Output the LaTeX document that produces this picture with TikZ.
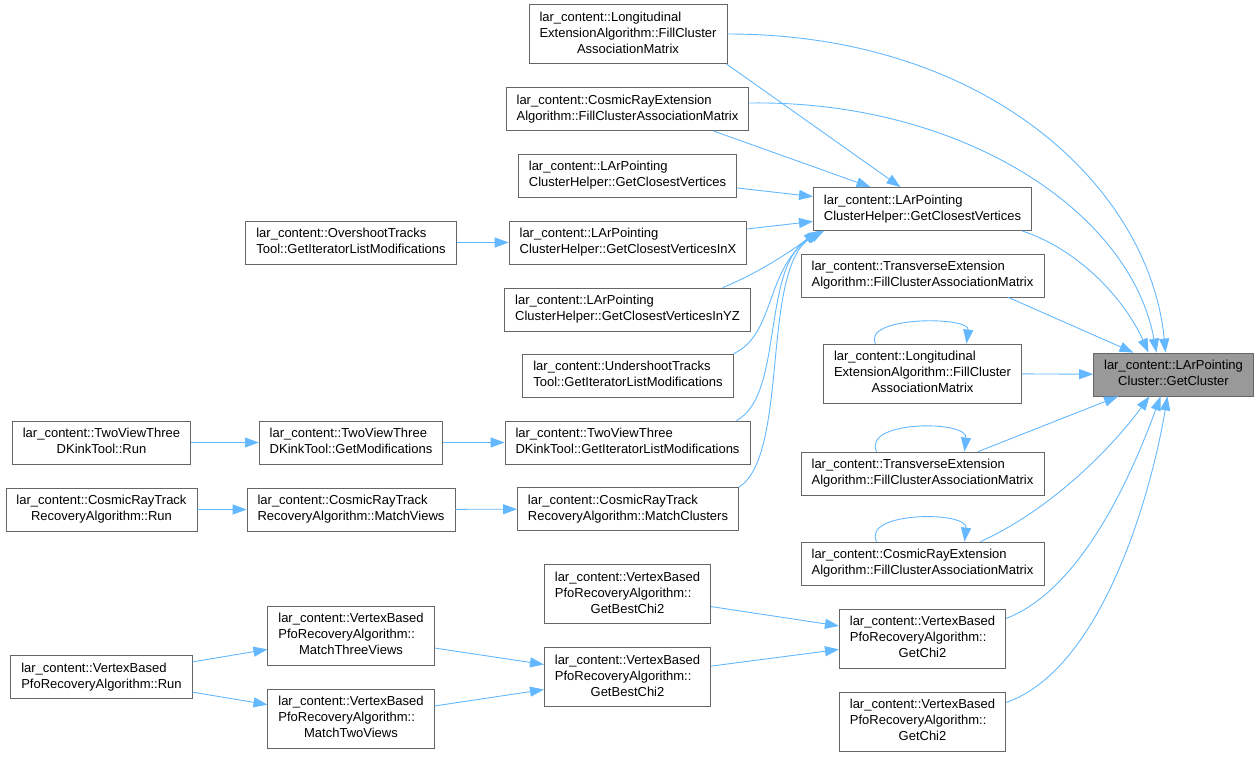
\documentclass[tikz,border=0pt]{standalone}
\usepackage{fontspec}
\setmainfont{Liberation Sans}
\usetikzlibrary{arrows.meta}
\definecolor{callblue}{HTML}{63B8FF}
\definecolor{boxgray}{HTML}{666666}
\definecolor{curgray}{HTML}{999999}
\newcommand{\fnfont}{\fontsize{13}{16}\selectfont}
\newcommand{\fnlabel}[2]{\begin{tabular}{@{}l@{}}#1\\\multicolumn{1}{@{}c@{}}{#2}\end{tabular}}

\begin{document}
\begin{tikzpicture}[x=1pt,y=-1pt,>={Triangle[length=14pt,width=10pt]},
  fn/.style={draw=boxgray,fill=white,line width=0.8pt,inner xsep=10.5pt,inner ysep=5.5pt,font=\fnfont},
  cur/.style={fn,fill=curgray},
  call/.style={->,color=callblue,line width=0.9pt}]
\useasboundingbox (0,0) rectangle (1259,756);

\node[cur] (tgt) at (1173.5,374.5) {\fnlabel{lar\_content::LArPointing}{Cluster::GetCluster}};

\node[fn] (leaTop) at (628,34) {\fnlabel{lar\_content::Longitudinal\\ExtensionAlgorithm::FillCluster}{AssociationMatrix}};
\node[fn] (creaTop) at (627.5,109) {\fnlabel{lar\_content::CosmicRayExtension}{Algorithm::FillClusterAssociationMatrix}};
\node[fn] (gcvLeft) at (627.5,175.5) {\fnlabel{lar\_content::LArPointing}{ClusterHelper::GetClosestVertices}};
\node[fn] (gcvInX) at (628,242.5) {\fnlabel{lar\_content::LArPointing}{ClusterHelper::GetClosestVerticesInX}};
\node[fn] (gcvInYZ) at (627.5,309.5) {\fnlabel{lar\_content::LArPointing}{ClusterHelper::GetClosestVerticesInYZ}};
\node[fn] (undershoot) at (628,375.5) {\fnlabel{lar\_content::UndershootTracks}{Tool::GetIteratorListModifications}};
\node[fn] (tvIter) at (627.5,442.5) {\fnlabel{lar\_content::TwoViewThree}{DKinkTool::GetIteratorListModifications}};
\node[fn] (crtClusters) at (628,509) {\fnlabel{lar\_content::CosmicRayTrack}{RecoveryAlgorithm::MatchClusters}};

\node[fn] (overshoot) at (351,242.5) {\fnlabel{lar\_content::OvershootTracks}{Tool::GetIteratorListModifications}};
\node[fn] (tvMods) at (351,442.5) {\fnlabel{lar\_content::TwoViewThree}{DKinkTool::GetModifications}};
\node[fn] (tvRun) at (101.5,442.5) {\fnlabel{lar\_content::TwoViewThree}{DKinkTool::Run}};
\node[fn] (crtViews) at (351,509.5) {\fnlabel{lar\_content::CosmicRayTrack}{RecoveryAlgorithm::MatchViews}};
\node[fn] (crtRun) at (101.5,509.5) {\fnlabel{lar\_content::CosmicRayTrack}{RecoveryAlgorithm::Run}};

\node[fn] (gcvMid) at (922.5,209) {\fnlabel{lar\_content::LArPointing}{ClusterHelper::GetClosestVertices}};
\node[fn] (teTop) at (922.5,275.5) {\fnlabel{lar\_content::TransverseExtension}{Algorithm::FillClusterAssociationMatrix}};
\node[fn] (leaMid) at (922.5,373.5) {\fnlabel{lar\_content::Longitudinal\\ExtensionAlgorithm::FillCluster}{AssociationMatrix}};
\node[fn] (teMid) at (922.5,473.5) {\fnlabel{lar\_content::TransverseExtension}{Algorithm::FillClusterAssociationMatrix}};
\node[fn] (creaMid) at (922.5,563.5) {\fnlabel{lar\_content::CosmicRayExtension}{Algorithm::FillClusterAssociationMatrix}};
\node[fn] (chi2A) at (922.5,638.5) {\fnlabel{lar\_content::VertexBased\\PfoRecoveryAlgorithm::}{GetChi2}};
\node[fn] (chi2B) at (922.5,721.5) {\fnlabel{lar\_content::VertexBased\\PfoRecoveryAlgorithm::}{GetChi2}};

\node[fn] (bestA) at (627.5,594) {\fnlabel{lar\_content::VertexBased\\PfoRecoveryAlgorithm::}{GetBestChi2}};
\node[fn] (bestB) at (627.5,677) {\fnlabel{lar\_content::VertexBased\\PfoRecoveryAlgorithm::}{GetBestChi2}};
\node[fn] (m3v) at (351,635.5) {\fnlabel{lar\_content::VertexBased\\PfoRecoveryAlgorithm::}{MatchThreeViews}};
\node[fn] (m2v) at (351,718.5) {\fnlabel{lar\_content::VertexBased\\PfoRecoveryAlgorithm::}{MatchTwoViews}};
\node[fn] (vbRun) at (101.5,677) {\fnlabel{lar\_content::VertexBased}{PfoRecoveryAlgorithm::Run}};

\draw[call] (leaTop.east) .. controls (990,34) and (1150,190) .. ([xshift=-8pt]tgt.north);
\draw[call] ([yshift=6pt]creaTop.east) .. controls (960,100) and (1130,210) .. ([xshift=-17pt]tgt.north);
\draw[call] ([xshift=-10pt]gcvMid.south east) .. controls (1080,250) and (1125,300) .. ([xshift=-25pt]tgt.north);
\draw[call] ([xshift=-36pt]teTop.south east) -- ([xshift=-40pt]tgt.north);
\draw[call] ([xshift=58pt]creaMid.north) .. controls (1050,510) and (1110,450) .. ([xshift=-24pt]tgt.south);
\draw[call] ([yshift=20pt]chi2A.east) .. controls (1080,590) and (1130,480) .. ([xshift=-13pt]tgt.south);
\draw[call] ([yshift=19pt]chi2B.east) .. controls (1100,670) and (1150,500) .. ([xshift=-6pt]tgt.south);

\draw[call] ([xshift=-1pt]leaTop.south east) -- ([xshift=-22pt]gcvMid.north);
\draw[call] ([xshift=-36pt]creaTop.south east) -- ([xshift=-52pt]gcvMid.north);
\draw[call] ([xshift=-28pt]gcvInYZ.north east) .. controls (760,272) and (790,252) .. ([xshift=5pt]gcvMid.south west);
\draw[call] (undershoot.north east) .. controls (775,335) and (765,270) .. ([xshift=7pt]gcvMid.south west);
\draw[call] ([xshift=-14pt]tvIter.north east) .. controls (785,395) and (760,265) .. ([xshift=9pt]gcvMid.south west);
\draw[call] (crtClusters.north east) .. controls (790,455) and (760,265) .. ([xshift=11pt]gcvMid.south west);

\draw[call] ([xshift=-47pt]leaMid.north) .. controls (862,316) and (970,316) .. ([xshift=44pt]leaMid.north);
\draw[call] ([xshift=-46pt]teMid.north) .. controls (862,420) and (968,420) .. ([xshift=42pt]teMid.north);
\draw[call] ([xshift=-46pt]creaMid.north) .. controls (862,511) and (968,511) .. ([xshift=42pt]creaMid.north);

\path[call]
(leaMid) edge (tgt)
(teMid) edge (tgt)
(gcvLeft) edge (gcvMid)
(gcvInX) edge (gcvMid)
(overshoot) edge (gcvInX)
(tvRun) edge (tvMods)
(tvMods) edge (tvIter)
(crtRun) edge (crtViews)
(crtViews) edge (crtClusters)
(vbRun) edge (m3v)
     edge (m2v)
(m3v) edge (bestB)
(m2v) edge (bestB)
(bestA) edge (chi2A)
(bestB) edge (chi2A);
\end{tikzpicture}
\end{document}
